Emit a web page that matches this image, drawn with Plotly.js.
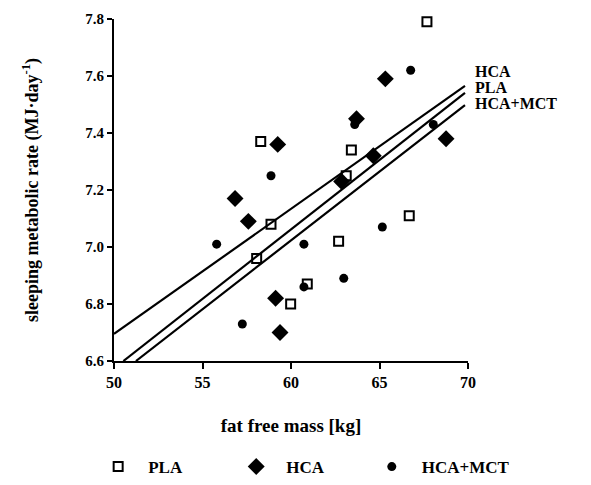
<!DOCTYPE html>
<html>
<head>
<meta charset="utf-8">
<script src="https://cdn.plot.ly/plotly-3.0.1.min.js"></script>
<style>html,body{margin:0;padding:0;background:#fff;}#chart{width:591px;height:485px;}</style>
</head>
<body>
<div id="chart"></div>
<script>
// Fat free mass [kg] and sleeping metabolic rate [MJ/day] per group
const plaX = [58.29, 58.87, 58.06, 59.98, 60.92, 62.69, 66.68, 67.68, 63.41, 63.12];
const plaY = [7.37, 7.08, 6.96, 6.80, 6.87, 7.02, 7.11, 7.79, 7.34, 7.25];
const hcaX = [59.25, 56.84, 57.59, 59.13, 59.38, 65.33, 63.70, 64.65, 68.76, 62.86];
const hcaY = [7.36, 7.17, 7.09, 6.82, 6.70, 7.59, 7.45, 7.32, 7.38, 7.23];
const mctX = [58.87, 55.80, 57.25, 60.73, 65.16, 62.98, 60.73, 66.76, 63.60, 68.04];
const mctY = [7.25, 7.01, 6.73, 7.01, 7.07, 6.89, 6.86, 7.62, 7.43, 7.43];

// Regression line end points
const hcaLineX = [50, 69.83];
const hcaLineY = [6.695, 7.565];
const plaLineX = [50.53, 69.83];
const plaLineY = [6.60, 7.541];
const mctLineX = [51.24, 69.83];
const mctLineY = [6.60, 7.498];

const lineLabels = ['HCA', 'PLA', 'HCA+MCT'];
const labelY = [7.615, 7.558, 7.502];

const xTicks = [50, 55, 60, 65, 70];
const yTicks = [6.6, 6.8, 7.0, 7.2, 7.4, 7.6, 7.8];

const serif = '"Liberation Serif", "Times New Roman", serif';
const lineStyle = {color: '#000', width: 2.2};

const traces = [
  {x: hcaLineX, y: hcaLineY, mode: 'lines', line: lineStyle, showlegend: false, hoverinfo: 'skip'},
  {x: plaLineX, y: plaLineY, mode: 'lines', line: lineStyle, showlegend: false, hoverinfo: 'skip'},
  {x: mctLineX, y: mctLineY, mode: 'lines', line: lineStyle, showlegend: false, hoverinfo: 'skip'},
  {x: plaX, y: plaY, mode: 'markers', name: '<b>PLA</b>', legend: 'legend', cliponaxis: false,
   marker: {symbol: 'square-open', size: 9, color: '#000', line: {width: 2, color: '#000'}}},
  {x: hcaX, y: hcaY, mode: 'markers', name: '<b>HCA</b>', legend: 'legend2', cliponaxis: false,
   marker: {symbol: 'diamond', size: 13, color: '#000'}},
  {x: mctX, y: mctY, mode: 'markers', name: '<b>HCA+MCT</b>', legend: 'legend3', cliponaxis: false,
   marker: {symbol: 'circle', size: 9, color: '#000'}}
];

const annotations = lineLabels.map((t, i) => ({
  x: 1, xref: 'paper', xanchor: 'left', xshift: 5,
  y: labelY[i], yref: 'y', yanchor: 'middle',
  text: '<b>' + t + '</b>', showarrow: false,
  font: {family: serif, size: 16, color: '#000'}
}));

function leg(xPaper) {
  return {
    orientation: 'h', x: xPaper, xanchor: 'left', y: -0.31, yanchor: 'middle',
    font: {family: serif, size: 17, color: '#000'},
    itemwidth: 50, bgcolor: 'rgba(0,0,0,0)'
  };
}

const layout = {
  width: 591, height: 485,
  margin: {l: 114, r: 123, t: 19, b: 124, autoexpand: false},
  paper_bgcolor: '#fff', plot_bgcolor: '#fff',
  font: {family: serif, color: '#000', size: 14},
  xaxis: {
    range: [50, 70], tickvals: xTicks, ticktext: xTicks.map(v => '<b>' + v + '</b>'),
    showgrid: false, zeroline: false, showline: true, linecolor: '#000', linewidth: 2,
    ticks: 'outside', ticklen: 6, tickwidth: 2, tickcolor: '#000',
    tickfont: {family: serif, size: 16, color: '#000'},
    title: {text: '<b>fat free mass [kg]</b>', font: {family: serif, size: 19, color: '#000'}, standoff: 28}
  },
  yaxis: {
    range: [6.6, 7.8], tickvals: yTicks, ticktext: yTicks.map(v => '<b>' + v.toFixed(1) + '</b>'),
    showgrid: false, zeroline: false, showline: true, linecolor: '#000', linewidth: 2,
    ticks: 'outside', ticklen: 5, tickwidth: 2, tickcolor: '#000',
    tickfont: {family: serif, size: 15, color: '#000'},
    title: {text: '<b>sleeping metabolic rate (MJ·day<sup>-1</sup>)</b>', font: {family: serif, size: 18, color: '#000'}, standoff: 42}
  },
  showlegend: true,
  legend: leg(-0.073),
  legend2: leg(0.317),
  legend3: leg(0.70),
  annotations: annotations
};

Plotly.newPlot('chart', traces, layout, {displayModeBar: false, staticPlot: true});
</script>
</body>
</html>
